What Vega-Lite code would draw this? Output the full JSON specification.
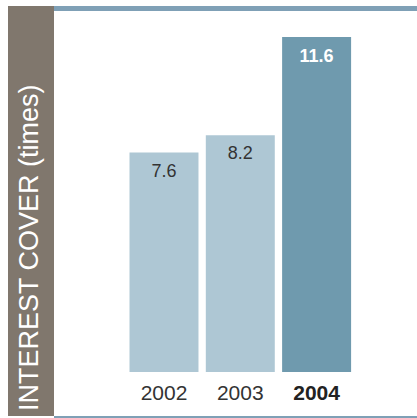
{
  "$schema": "https://vega.github.io/schema/vega-lite/v6.json",
  "padding": {"left": 8, "top": 5, "right": 0, "bottom": 0},
  "autosize": {"type": "pad"},
  "background": "white",
  "spacing": 0,
  "bounds": "flush",
  "config": {"view": {"stroke": null}, "font": "Liberation Sans"},
  "datasets": {
    "cover": [
      {"year": "2002", "value": 7.6},
      {"year": "2003", "value": 8.2},
      {"year": "2004", "value": 11.6}
    ],
    "title": [{"label": "INTEREST COVER (times)"}],
    "border": [{"edge": "border"}]
  },
  "hconcat": [
    {
      "width": 46,
      "height": 410,
      "view": {"fill": "#80776d", "stroke": null},
      "data": {"name": "title"},
      "mark": {"type": "text", "angle": 270, "align": "left", "baseline": "alphabetic", "fontSize": 27, "color": "white", "dx": 5, "dy": 7},
      "encoding": {
        "text": {"field": "label"},
        "y": {"datum": 0, "type": "quantitative", "scale": {"domain": [0, 1]}, "axis": null}
      }
    },
    {
      "width": 363,
      "height": 413,
      "data": {"name": "cover"},
      "layer": [
        {
          "mark": {"type": "bar"},
          "encoding": {
            "x": {"field": "year", "type": "nominal", "axis": null, "scale": {"range": [75.5, 297.1], "paddingInner": 0.096, "paddingOuter": 0}},
            "y": {"field": "value", "type": "quantitative", "axis": null, "scale": {"domain": [-1.627, 12.673], "nice": false, "zero": false}},
            "y2": {"datum": 0},
            "color": {"condition": {"test": "datum.year == '2004'", "value": "#6f9aae"}, "value": "#aec7d4"}
          }
        },
        {
          "transform": [{"filter": "datum.year != '2004'"}],
          "mark": {"type": "text", "baseline": "middle", "fontSize": 18, "dy": 19, "color": "#333333"},
          "encoding": {
            "x": {"field": "year", "type": "nominal"},
            "y": {"field": "value", "type": "quantitative"},
            "text": {"field": "value", "type": "quantitative", "format": ".1f"}
          }
        },
        {
          "transform": [{"filter": "datum.year == '2004'"}],
          "mark": {"type": "text", "baseline": "middle", "fontSize": 18, "dy": 20, "color": "white", "fontWeight": "bold"},
          "encoding": {
            "x": {"field": "year", "type": "nominal"},
            "y": {"field": "value", "type": "quantitative"},
            "text": {"field": "value", "type": "quantitative", "format": ".1f"}
          }
        },
        {
          "transform": [{"filter": "datum.year != '2004'"}],
          "mark": {"type": "text", "baseline": "middle", "fontSize": 21, "color": "#333333"},
          "encoding": {
            "x": {"field": "year", "type": "nominal"},
            "y": {"datum": -0.75},
            "text": {"field": "year"}
          }
        },
        {
          "transform": [{"filter": "datum.year == '2004'"}],
          "mark": {"type": "text", "baseline": "middle", "fontSize": 21, "color": "#222222", "fontWeight": "bold"},
          "encoding": {
            "x": {"field": "year", "type": "nominal"},
            "y": {"datum": -0.75},
            "text": {"field": "year"}
          }
        },
        {
          "data": {"name": "border"},
          "mark": {"type": "rule", "strokeWidth": 5, "color": "#7fa0b6"},
          "encoding": {"y": {"datum": 12.587}}
        },
        {
          "data": {"name": "border"},
          "mark": {"type": "rule", "strokeWidth": 3, "color": "#7fa0b6"},
          "encoding": {"y": {"datum": -1.5755}}
        }
      ]
    }
  ]
}
